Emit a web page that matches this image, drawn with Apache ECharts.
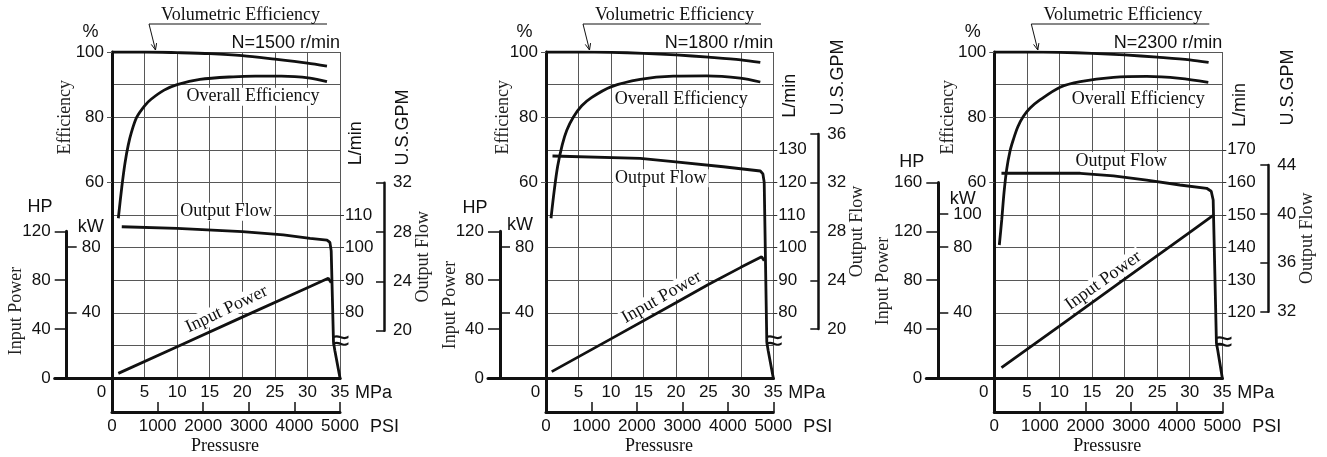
<!DOCTYPE html>
<html>
<head>
<meta charset="utf-8">
<title>Pump performance curves</title>
<script src="https://cdn.jsdelivr.net/npm/echarts@6.0.0/dist/echarts.min.js"></script>
<style>
  html, body { margin: 0; padding: 0; background: #fff; }
  #chart { width: 1327px; height: 457px; }
</style>
</head>
<body>
<div id="chart"></div>
<script>
// ---------- data: [pressure MPa, value] ----------
// 1500 r/min
const volEff1500 = [[0,100],[5,100],[10,99.8],[15,99.5],[20,98.9],[25,97.8],[30,96.6],[33,95.7]];
const overallEff1500 = [[0.97,49],[1.5,58.5],[2,66],[2.5,71.5],[3,75.5],[3.8,80],[5,83.5],[6,85.5],[8,88.3],[10,90],[13.5,91.6],[18.6,92.4],[22,92.6],[26,92.6],[30.4,92],[33,90.9]];
const flow1500 = [[1.5,106.4],[10,105.9],[20,104.9],[26.3,103.9],[30.4,102.8],[33,102.3],[33.45,101.6],[33.65,99],[34.0,71],[34.2,68.5],[35,60]];
const power1500 = [[0.97,3.8],[10,25.6],[20,49.8],[30,73.9],[33.2,81.6],[33.5,80.8],[33.65,78]];

// 1800 r/min
const volEff1800 = [[0,100],[5,100],[10,99.9],[15,99.6],[20,99.1],[25,98.4],[30,97.6],[33,96.8]];
const overallEff1800 = [[0.77,49],[1.3,58],[1.8,65],[2.5,71.5],[3.2,76],[4.2,80],[5.5,83.5],[7,86],[10,89.3],[14.5,91.6],[19.6,92.6],[24.7,92.7],[29.9,92],[33,90.8]];
const flow1800 = [[1,128.1],[14.5,127.4],[19.6,126.4],[27.3,124.8],[33,123.5],[33.4,122.6],[33.6,120],[34.0,71],[34.2,68.5],[35,60]];
const power1800 = [[0.88,5.2],[10,32],[20,61.5],[25,76.5],[30,90.5],[33.2,99.2],[33.5,98.6],[33.6,96]];

// 2300 r/min
const volEff2300 = [[0,100],[5,100],[10,99.9],[15,99.6],[20,99.1],[25,98.4],[30,97.6],[32.9,96.8]];
const overallEff2300 = [[0.77,40.8],[1.14,48.5],[1.5,57],[1.9,64],[2.4,69.5],[2.9,73],[3.6,77],[4.45,80.2],[5.5,82.8],[7,85.3],[10.1,89.2],[13.2,90.9],[18.3,92.2],[23.4,92.5],[28.5,91.9],[32.85,90.7]];
const flow2300 = [[1.1,162.8],[13.2,162.8],[18.3,162],[23.4,160.7],[28.5,159.2],[32.6,158.2],[33.3,157.3],[33.6,154.6],[34.1,110.7],[34.3,108.5],[35,100]];
const power2300 = [[1.1,8.4],[10,42.5],[20,80.9],[30,119.2],[33.6,133]];

// ---------- tick labels ----------
const speedLabels = ['N=1500 r/min', 'N=1800 r/min', 'N=2300 r/min'];
const effTicks = [60, 80, 100];
const lpmTicks1500 = [80, 90, 100, 110];
const lpmTicks1800 = [80, 90, 100, 110, 120, 130];
const lpmTicks2300 = [120, 130, 140, 150, 160, 170];
const gpmTicks1500 = [20, 24, 28, 32];
const gpmTicks1800 = [20, 24, 28, 32, 36];
const gpmTicks2300 = [32, 36, 40, 44];
const hpTicks1500 = [0, 40, 80, 120];
const hpTicks1800 = [0, 40, 80, 120];
const hpTicks2300 = [0, 40, 80, 120, 160];
const kwTicks1500 = [40, 80];
const kwTicks1800 = [40, 80];
const kwTicks2300 = [40, 80, 100];
const mpaRange = [0, 35];
const psiRange = [0, 5000];

const panels = [
  { speed: speedLabels[0], vol: volEff1500, overall: overallEff1500, flow: flow1500, power: power1500, flowBreak: 8,
    lpm: lpmTicks1500, gpm: gpmTicks1500, hp: hpTicks1500, kw: kwTicks1500 },
  { speed: speedLabels[1], vol: volEff1800, overall: overallEff1800, flow: flow1800, power: power1800, flowBreak: 7,
    lpm: lpmTicks1800, gpm: gpmTicks1800, hp: hpTicks1800, kw: kwTicks1800 },
  { speed: speedLabels[2], vol: volEff2300, overall: overallEff2300, flow: flow2300, power: power2300, flowBreak: 8,
    lpm: lpmTicks2300, gpm: gpmTicks2300, hp: hpTicks2300, kw: kwTicks2300 }
];

// ---------- layout (pixels) ----------
const TOP = 52, PLOT_H = 326, BASE = TOP + PLOT_H, PSI_Y = 412;
const HP_FULL = 800 / 3;        // HP spanned by the full plot height
const KW_PER_HP = 0.7457;
const HP_TICK = 12;
const layouts = [
  { L: 112, W: 228, hpX: 66.7, gpmX: 384, gpmTop: 182.7, gpmBottom: 330.7, lpmMin: 60, effGap: 38,
    overallAt: [253, 96.7], flowAt: [226, 211.7], powerAt: [226.7, 309.3, 25.5], powerNameAt: [16, 311],
    hpAt: [40, 206.7], kwAt: [90.7, 226.7], lpmAt: [356, 143.3], gpmAt: [403.3, 127.5] },
  { L: 546, W: 227.3, hpX: 500, gpmX: 818.3, gpmTop: 134, gpmBottom: 329, lpmMin: 60, effGap: 34,
    overallAt: [681.3, 99.3], flowAt: [660.8, 178.3], powerAt: [661.7, 297.3, 29.5], powerNameAt: [450, 305],
    hpAt: [475, 208], kwAt: [520, 225], lpmAt: [790, 95.8], gpmAt: [838.3, 77.5] },
  { L: 994.3, W: 228, hpX: 938.3, gpmX: 1268.3, gpmTop: 165, gpmBottom: 311.7, lpmMin: 100, effGap: 37,
    overallAt: [1138.3, 99.3], flowAt: [1121.3, 161], powerAt: [1103.3, 280.7, 35.5], powerNameAt: [883.3, 281],
    hpAt: [911.7, 161.7], kwAt: [962.7, 199.3], lpmAt: [1240, 105], gpmAt: [1288.3, 87.5] }
];

// ---------- styles ----------
const SANS = '"Liberation Sans", Arial, Helvetica, sans-serif';
const SERIF = '"Liberation Serif", "Times New Roman", serif';
const INK = '#111';
const GRID_C = '#575757';
const plain = v => String(v);
const NUM = { color: INK, fontFamily: SANS, fontSize: 17, formatter: plain };

const option = {
  animation: false,
  backgroundColor: '#fff',
  grid: [], xAxis: [], yAxis: [], series: [], graphic: []
};

function addGrid(g) {
  option.grid.push(Object.assign({ containLabel: false, outerBoundsMode: 'none', show: false }, g));
  return option.grid.length - 1;
}
function addX(a) { option.xAxis.push(Object.assign({ type: 'value', nameMoveOverlap: false }, a)); return option.xAxis.length - 1; }
function addY(a) { option.yAxis.push(Object.assign({ type: 'value', nameMoveOverlap: false }, a)); return option.yAxis.length - 1; }
const off = { show: false };
function lineOnly(gridIndex, width, position) {
  return { gridIndex, min: 0, max: 1, position,
    axisLine: { show: true, onZero: false, lineStyle: { color: INK, width } },
    axisTick: off, axisLabel: off, splitLine: off };
}
function text(x, y, str, family, size, extra) {
  return Object.assign({ type: 'text', x, y, z: 100, silent: true,
    style: Object.assign({ text: str, fontFamily: family, fontSize: size, fill: INK,
      align: 'center', verticalAlign: 'middle' }, extra && extra.style) }, extra && extra.el);
}

panels.forEach((p, i) => {
  const lay = layouts[i];
  const R = lay.L + lay.W;
  const hpMax = p.hp[p.hp.length - 1];
  const hpH = PLOT_H * hpMax / HP_FULL;

  // main plot
  const g0 = addGrid({ left: lay.L, top: TOP, width: lay.W, height: PLOT_H });
  const xMain = addX({ gridIndex: g0, min: mpaRange[0], max: mpaRange[1], interval: 5, position: 'bottom',
    axisLine: { show: true, onZero: false, lineStyle: { color: INK, width: 3 } },
    axisTick: off,
    axisLabel: Object.assign({}, NUM, { margin: 6,
      formatter: v => v === 0 ? '{z|0}' : String(v),
      rich: { z: { padding: [0, 21, 0, 0], color: INK, fontFamily: SANS, fontSize: 17 } } }),
    splitLine: { show: true, lineStyle: { color: GRID_C, width: 1 } },
    name: 'MPa', nameLocation: 'end', nameGap: 15,
    nameTextStyle: { color: INK, fontFamily: SANS, fontSize: 18, align: 'left', verticalAlign: 'top', padding: [6, 0, 0, 0] } });
  const yEff = addY({ gridIndex: g0, min: 0, max: 100, interval: 10, position: 'left',
    axisLine: off, axisTick: off, axisLabel: off,
    splitLine: { show: true, lineStyle: { color: GRID_C, width: 1 } } });
  const yLpm = addY({ gridIndex: g0, min: lay.lpmMin, max: lay.lpmMin + 100, position: 'right',
    axisLine: off, splitLine: off,
    axisTick: { show: true, length: 4, customValues: p.lpm, lineStyle: { color: '#333', width: 1 } },
    axisLabel: Object.assign({ margin: 5, customValues: p.lpm }, NUM) });
  const yPow = addY({ gridIndex: g0, min: 0, max: HP_FULL, position: 'left', show: false });

  // efficiency tick labels (60 - 100 %)
  const g1 = addGrid({ left: lay.L, top: TOP, width: lay.W, height: PLOT_H * 0.4 });
  addX({ gridIndex: g1, min: 0, max: 1, show: false });
  addY({ gridIndex: g1, min: 60, max: 100, position: 'left',
    axisLine: off, splitLine: off,
    axisTick: { show: true, length: 5, customValues: effTicks, lineStyle: { color: GRID_C, width: 1 } },
    axisLabel: Object.assign({ margin: 8, customValues: effTicks }, NUM),
    name: 'Efficiency', nameLocation: 'middle', nameGap: lay.effGap,
    nameTextStyle: { color: '#222', fontFamily: SERIF, fontSize: 18 } });

  // input power axes (HP / kW); the grid starts one tick length left of the axis line
  const g2 = addGrid({ left: lay.hpX - HP_TICK, top: BASE - hpH, width: R - (lay.hpX - HP_TICK), height: hpH });
  addX(lineOnly(g2, 3, 'bottom'));
  addY({ gridIndex: g2, min: 0, max: hpMax, interval: 40, position: 'left', offset: -HP_TICK,
    axisLine: { show: true, onZero: false, lineStyle: { color: INK, width: 3 } },
    axisTick: { show: true, length: HP_TICK, lineStyle: { color: INK, width: 1.5 } },
    axisLabel: Object.assign({ margin: 16 }, NUM), splitLine: off });
  addY({ gridIndex: g2, min: 0, max: hpMax * KW_PER_HP, position: 'left', offset: -HP_TICK,
    axisLine: off, splitLine: off,
    axisTick: { show: true, inside: true, length: 10, customValues: p.kw, lineStyle: { color: INK, width: 1.5 } },
    axisLabel: Object.assign({ inside: true, margin: 15, customValues: p.kw }, NUM) });

  // output flow (U.S.GPM)
  const g3 = addGrid({ left: lay.L, top: lay.gpmTop, width: lay.gpmX - lay.L, height: lay.gpmBottom - lay.gpmTop });
  addX({ gridIndex: g3, min: 0, max: 1, show: false });
  addY({ gridIndex: g3, min: p.gpm[0], max: p.gpm[p.gpm.length - 1], interval: 4, position: 'right',
    axisLine: { show: true, onZero: false, lineStyle: { color: INK, width: 2.5 } },
    axisTick: { show: true, inside: true, length: 8, lineStyle: { color: INK, width: 1.5 } },
    axisLabel: Object.assign({ margin: 9 }, NUM), splitLine: off,
    name: 'Output Flow', nameLocation: 'middle', nameGap: 30,
    nameTextStyle: { color: '#222', fontFamily: SERIF, fontSize: 18 } });

  // pressure in PSI
  const g4 = addGrid({ left: lay.L, top: TOP, width: lay.W, height: PSI_Y - TOP });
  addX({ gridIndex: g4, min: psiRange[0], max: psiRange[1], interval: 1000, position: 'bottom',
    axisLine: { show: true, onZero: false, lineStyle: { color: INK, width: 3 } },
    axisTick: { show: true, inside: true, length: 10, lineStyle: { color: INK, width: 1.5 } },
    axisLabel: Object.assign({ margin: 6 }, NUM), splitLine: off,
    name: 'PSI', nameLocation: 'end', nameGap: 30,
    nameTextStyle: { color: INK, fontFamily: SANS, fontSize: 18, align: 'left', verticalAlign: 'top', padding: [6, 0, 0, 0] } });
  addY(lineOnly(g4, 3, 'left'));

  // curves
  const curve = (data, yIdx, smooth, extra) => Object.assign({
    type: 'line', xAxisIndex: xMain, yAxisIndex: yIdx, data,
    symbol: 'none', showSymbol: false, smooth, silent: true, z: 5,
    lineStyle: { color: INK, width: 2.8 }
  }, extra);
  option.series.push(curve(p.vol, yEff, 0.3, { name: 'Volumetric Efficiency' }));
  option.series.push(curve(p.overall, yEff, 0.3, { name: 'Overall Efficiency' }));
  option.series.push(curve(p.flow, yLpm, false, { name: 'Output Flow',
    markPoint: { silent: true, symbol: 'circle', symbolSize: 1, itemStyle: { color: 'rgba(0,0,0,0)' },
      label: { show: true, position: 'inside', formatter: '\u2248', fontSize: 32, fontFamily: SANS, color: INK, offset: [7, 0] },
      data: [{ coord: p.flow[p.flowBreak] }] } }));
  option.series.push(curve(p.power, yPow, false, { name: 'Input Power' }));

  // annotations
  const G = option.graphic;
  G.push(text(lay.L + 128.5, 15, 'Volumetric Efficiency', SERIF, 18));
  G.push({ type: 'line', z: 100, silent: true, shape: { x1: lay.L + 37, y1: 24, x2: lay.L + 215, y2: 24 },
    style: { stroke: INK, lineWidth: 1 } });
  const ax0 = lay.L + 37, ay0 = 24, ax1 = lay.L + 43.5, ay1 = 50;
  G.push({ type: 'line', z: 100, silent: true, shape: { x1: ax0, y1: ay0, x2: ax1, y2: ay1 },
    style: { stroke: INK, lineWidth: 1 } });
  const len = Math.hypot(ax1 - ax0, ay1 - ay0), bx = (ax0 - ax1) / len, by = (ay0 - ay1) / len;
  const wing = (a) => [ax1 + 7 * (bx * Math.cos(a) - by * Math.sin(a)), ay1 + 7 * (bx * Math.sin(a) + by * Math.cos(a))];
  G.push({ type: 'polyline', z: 100, silent: true,
    shape: { points: [wing(0.4), [ax1, ay1], wing(-0.4)] }, style: { stroke: INK, lineWidth: 1, fill: null } });

  G.push(text(R, 43, p.speed, SANS, 18, { style: { align: 'right' } }));
  G.push(text(lay.L - 21.5, 32, '%', SANS, 18));
  G.push(text(lay.hpAt[0], lay.hpAt[1], 'HP', SANS, 18));
  G.push(text(lay.kwAt[0], lay.kwAt[1], 'kW', SANS, 18));
  G.push(text(lay.lpmAt[0], lay.lpmAt[1], 'L/min', SANS, 18, { el: { rotation: Math.PI / 2 } }));
  G.push(text(lay.gpmAt[0], lay.gpmAt[1], 'U.S.GPM', SANS, 18, { el: { rotation: Math.PI / 2 } }));
  G.push(text(lay.powerNameAt[0], lay.powerNameAt[1], 'Input Power', SERIF, 18,
    { style: { fill: '#222' }, el: { rotation: Math.PI / 2 } }));
  G.push(text(lay.L + 113, 446.7, 'Pressusre', SERIF, 18));
  const boxed = { backgroundColor: '#fff', padding: [0, 2] };
  G.push(text(lay.overallAt[0], lay.overallAt[1], 'Overall Efficiency', SERIF, 18, { style: boxed }));
  G.push(text(lay.flowAt[0], lay.flowAt[1], 'Output Flow', SERIF, 18, { style: boxed }));
  G.push(text(lay.powerAt[0], lay.powerAt[1], 'Input Power', SERIF, 18,
    { style: boxed, el: { rotation: lay.powerAt[2] * Math.PI / 180 } }));
});

const chart = echarts.init(document.getElementById('chart'), null, { renderer: 'canvas' });
chart.setOption(option);
</script>
</body>
</html>
